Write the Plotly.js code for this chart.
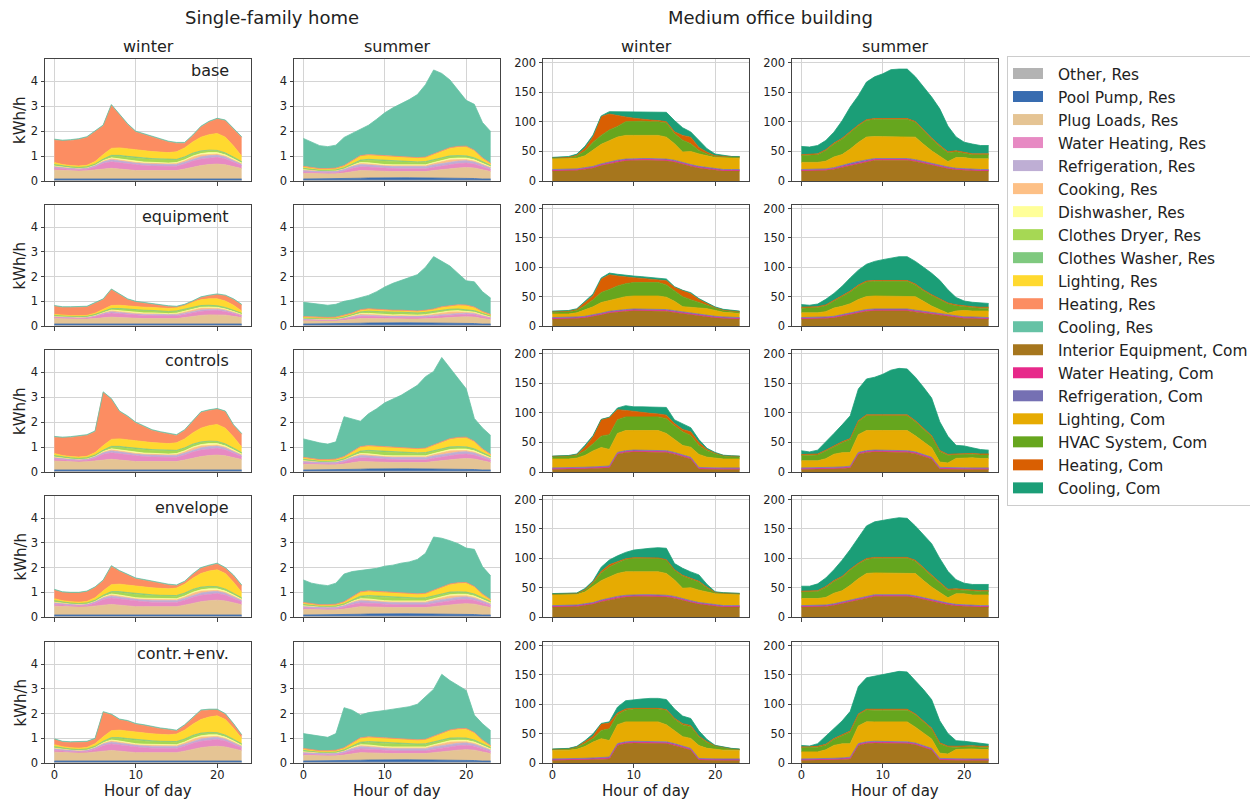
<!DOCTYPE html>
<html>
<head>
<meta charset="utf-8">
<script src="https://cdn.plot.ly/plotly-3.0.1.min.js"></script>
<style>html,body{margin:0;padding:0;background:#fff;}#chart{width:1250px;height:800px;}</style>
</head>
<body>
<div id="chart"></div>
<script>
// ---------- categories ----------
const hours = [0,1,2,3,4,5,6,7,8,9,10,11,12,13,14,15,16,17,18,19,20,21,22,23];
const scenarioLabels = ['base','equipment','controls','envelope','contr.+env.'];
const seasonLabels = ['winter','summer','winter','summer'];
const groupTitles = ['Single-family home','Medium office building'];
const resNames = ['Other, Res','Pool Pump, Res','Plug Loads, Res','Water Heating, Res','Refrigeration, Res','Cooking, Res','Dishwasher, Res','Clothes Dryer, Res','Clothes Washer, Res','Lighting, Res','Heating, Res','Cooling, Res'];
const comNames = ['Interior Equipment, Com','Water Heating, Com','Refrigeration, Com','Lighting, Com','HVAC System, Com','Heating, Com','Cooling, Com'];
const resColors = ['#b3b3b3','#386cb0','#e5c494','#e78ac3','#beaed4','#fdc086','#ffff99','#a6d854','#7fc97f','#ffd92f','#fc8d62','#66c2a5'];
const comColors = ['#a6761d','#e7298a','#7570b3','#e6ab02','#66a61e','#d95f02','#1b9e77'];
const resYTicks = [0,1,2,3,4];
const comYTicks = [0,50,100,150,200];
const xTicks = [0,10,20];

// ---------- residential (kWh/h) ----------
const rOther   = [0.03,0.03,0.03,0.03,0.03,0.03,0.04,0.04,0.04,0.04,0.04,0.04,0.04,0.04,0.04,0.04,0.04,0.04,0.04,0.04,0.04,0.04,0.03,0.03];
const rPoolW   = [0.05,0.05,0.05,0.05,0.05,0.05,0.05,0.05,0.06,0.07,0.07,0.07,0.07,0.07,0.07,0.06,0.06,0.06,0.06,0.06,0.06,0.05,0.05,0.05];
const rPlugW   = [0.36,0.34,0.33,0.32,0.33,0.36,0.40,0.42,0.38,0.33,0.31,0.31,0.31,0.31,0.31,0.32,0.38,0.46,0.52,0.56,0.58,0.56,0.50,0.42];
const rWaterW  = [0.08,0.06,0.05,0.05,0.06,0.12,0.22,0.26,0.25,0.24,0.22,0.20,0.18,0.17,0.16,0.17,0.20,0.24,0.26,0.27,0.27,0.24,0.18,0.12];
const rFridgeW = [0.07,0.07,0.07,0.06,0.06,0.07,0.07,0.08,0.08,0.08,0.08,0.08,0.08,0.08,0.08,0.08,0.08,0.08,0.09,0.09,0.09,0.08,0.08,0.07];
const rCook    = [0.01,0.01,0.01,0.01,0.01,0.02,0.03,0.05,0.04,0.03,0.03,0.03,0.04,0.03,0.03,0.04,0.06,0.08,0.08,0.06,0.04,0.03,0.02,0.01];
const rDishW   = [0.02,0.02,0.01,0.01,0.01,0.01,0.02,0.03,0.04,0.04,0.03,0.03,0.03,0.03,0.03,0.03,0.03,0.04,0.05,0.06,0.06,0.05,0.04,0.03];
const rDryerW  = [0.02,0.01,0.01,0.01,0.01,0.01,0.03,0.06,0.10,0.12,0.13,0.13,0.12,0.12,0.11,0.10,0.09,0.09,0.08,0.07,0.06,0.05,0.04,0.03];
const rWasherW = [0.02,0.01,0.01,0.01,0.01,0.01,0.02,0.04,0.04,0.04,0.04,0.04,0.03,0.03,0.03,0.03,0.03,0.03,0.03,0.03,0.03,0.03,0.02,0.02];
const rLightW  = [0.08,0.06,0.05,0.05,0.06,0.10,0.18,0.28,0.30,0.30,0.28,0.28,0.28,0.28,0.28,0.30,0.36,0.45,0.55,0.62,0.68,0.63,0.45,0.22];
const rCoolW   = [0.03,0.03,0.03,0.03,0.03,0.03,0.03,0.03,0.03,0.03,0.03,0.03,0.03,0.03,0.03,0.03,0.03,0.03,0.03,0.03,0.03,0.03,0.03,0.03];
const rHeatW_base  = [0.91,0.95,1.01,1.07,1.12,1.19,1.16,1.73,1.34,0.98,0.74,0.66,0.59,0.49,0.43,0.35,0.19,0.25,0.41,0.51,0.58,0.66,0.66,0.75];
const rHeatW_equip = [0.33,0.31,0.33,0.33,0.34,0.40,0.40,0.64,0.43,0.26,0.20,0.16,0.12,0.09,0.08,0.03,0.02,0.02,0.09,0.12,0.17,0.21,0.23,0.24];
const rHeatW_ctrl  = [0.66,0.71,0.77,0.83,0.84,0.84,2.13,1.61,1.09,0.93,0.74,0.61,0.49,0.43,0.38,0.30,0.34,0.45,0.63,0.61,0.61,0.66,0.46,0.52];
const rHeatW_env   = [0.35,0.33,0.35,0.37,0.39,0.41,0.41,0.74,0.52,0.40,0.32,0.28,0.24,0.19,0.16,0.10,0.09,0.15,0.21,0.21,0.24,0.21,0.26,0.27];
const rHeatW_ce    = [0.21,0.19,0.21,0.23,0.22,0.19,0.99,0.64,0.42,0.40,0.34,0.31,0.27,0.23,0.21,0.13,0.19,0.25,0.36,0.29,0.24,0.21,0.16,0.12];
// efficient-equipment residential loads
const rPlugWE   = [0.22,0.21,0.20,0.20,0.20,0.22,0.25,0.27,0.24,0.21,0.19,0.19,0.19,0.19,0.19,0.20,0.24,0.29,0.33,0.35,0.36,0.35,0.31,0.26];
const rWaterWE  = [0.05,0.04,0.03,0.03,0.04,0.08,0.14,0.17,0.16,0.15,0.14,0.13,0.12,0.11,0.10,0.11,0.13,0.15,0.17,0.17,0.17,0.15,0.12,0.08];
const rFridgeE  = [0.04,0.04,0.04,0.04,0.04,0.04,0.04,0.05,0.05,0.05,0.05,0.05,0.05,0.05,0.05,0.05,0.05,0.05,0.05,0.05,0.05,0.05,0.05,0.04];
const rDishE    = [0.01,0.01,0.01,0.01,0.01,0.01,0.01,0.02,0.03,0.03,0.02,0.02,0.02,0.02,0.02,0.02,0.02,0.03,0.03,0.04,0.04,0.03,0.03,0.02];
const rDryerE   = [0.01,0.01,0.01,0.01,0.01,0.01,0.02,0.04,0.07,0.08,0.09,0.09,0.08,0.08,0.07,0.07,0.06,0.06,0.05,0.05,0.04,0.03,0.03,0.02];
const rWasherE  = [0.01,0.01,0.01,0.01,0.01,0.01,0.01,0.02,0.02,0.02,0.02,0.02,0.02,0.02,0.02,0.02,0.02,0.02,0.02,0.02,0.02,0.02,0.01,0.01];
const rLightWE  = [0.04,0.03,0.03,0.03,0.03,0.05,0.08,0.12,0.13,0.13,0.12,0.12,0.12,0.12,0.12,0.13,0.15,0.19,0.23,0.26,0.28,0.26,0.19,0.09];
// summer residential
const rPoolS   = [0.05,0.05,0.05,0.05,0.05,0.05,0.06,0.07,0.08,0.09,0.09,0.09,0.09,0.09,0.09,0.08,0.08,0.07,0.07,0.06,0.06,0.06,0.05,0.05];
const rPlugS   = [0.23,0.22,0.21,0.21,0.21,0.24,0.28,0.31,0.29,0.26,0.25,0.25,0.25,0.25,0.25,0.26,0.30,0.35,0.39,0.42,0.44,0.42,0.37,0.30];
const rWaterS  = [0.05,0.04,0.03,0.03,0.04,0.08,0.13,0.15,0.15,0.14,0.13,0.12,0.11,0.10,0.10,0.11,0.13,0.15,0.17,0.18,0.18,0.16,0.12,0.08];
const rFridgeS = [0.08,0.08,0.08,0.08,0.08,0.08,0.08,0.09,0.09,0.09,0.09,0.09,0.09,0.09,0.09,0.09,0.10,0.10,0.10,0.10,0.10,0.09,0.09,0.08];
const rLightS  = [0.05,0.04,0.03,0.03,0.04,0.06,0.10,0.15,0.16,0.16,0.15,0.15,0.15,0.15,0.15,0.16,0.20,0.25,0.30,0.34,0.36,0.28,0.12,0.05];
const rHeatS   = [0.03,0.03,0.03,0.03,0.03,0.03,0.03,0.03,0.03,0.03,0.02,0.02,0.02,0.02,0.02,0.02,0.02,0.03,0.03,0.03,0.03,0.03,0.03,0.03];
const rPlugSE  = [0.14,0.13,0.13,0.13,0.13,0.15,0.17,0.19,0.18,0.16,0.15,0.15,0.15,0.15,0.15,0.16,0.18,0.21,0.24,0.26,0.27,0.26,0.22,0.18];
const rWaterSE = [0.03,0.02,0.02,0.02,0.02,0.05,0.08,0.09,0.09,0.08,0.08,0.07,0.07,0.06,0.06,0.07,0.08,0.09,0.10,0.11,0.11,0.10,0.07,0.05];
const rLightSE = [0.02,0.02,0.01,0.01,0.02,0.03,0.04,0.06,0.07,0.07,0.06,0.06,0.06,0.06,0.06,0.07,0.08,0.10,0.12,0.14,0.15,0.12,0.05,0.03];
const rCoolS_base  = [1.12,1.01,0.92,0.88,0.92,1.13,1.09,1.06,1.18,1.44,1.74,1.95,2.13,2.32,2.53,2.91,3.38,3.09,2.72,2.25,1.84,1.84,1.42,1.28];
const rCoolS_equip = [0.58,0.55,0.53,0.49,0.52,0.57,0.53,0.48,0.54,0.71,0.93,1.09,1.19,1.34,1.47,1.74,2.12,1.85,1.60,1.27,0.98,1.02,0.80,0.66];
const rCoolS_ctrl  = [0.74,0.70,0.67,0.62,0.69,1.60,1.32,1.02,1.28,1.50,1.78,1.94,2.11,2.33,2.54,2.87,2.96,3.37,2.85,2.40,1.94,0.91,0.84,0.76];
const rCoolS_env   = [0.91,0.83,0.81,0.77,0.85,1.12,1.02,0.87,0.88,0.93,1.06,1.11,1.21,1.28,1.39,1.62,2.16,1.96,1.75,1.58,1.39,1.50,1.11,0.96];
const rCoolS_ce    = [0.60,0.60,0.59,0.54,0.67,1.62,1.32,0.92,0.98,1.03,1.13,1.19,1.26,1.33,1.44,1.72,1.91,2.36,2.00,1.75,1.54,0.70,0.66,0.60];

// ---------- commercial (kWh/h) ----------
const cWater  = [0.8,0.8,0.8,0.8,0.9,1.0,1.2,1.4,1.4,1.3,1.3,1.3,1.3,1.3,1.3,1.3,1.2,1.1,1.0,0.9,0.9,0.8,0.8,0.8];
const cFridge = [1.6,1.6,1.6,1.6,1.6,1.6,1.7,1.7,1.7,1.7,1.7,1.7,1.7,1.7,1.7,1.7,1.7,1.7,1.7,1.6,1.6,1.6,1.6,1.6];
const cHeatS  = [1.5,1.5,1.5,1.5,1.5,1.5,1.5,1.5,1.5,1.5,1.5,1.5,1.5,1.5,1.5,1.5,1.5,1.5,1.5,1.5,1.5,1.5,1.5,1.5];
const cEquipW_std = [17,17,17,18,20,22,26,29,32,34,35,35,35,35,34,32,28,25,22,20,18,17,17,17];
const cEquipS_std = [17,17,17,18,20,23,27,30,33,35,35,35,35,35,33,30,26,23,21,19,18,17,17,17];
const cLightW_std = [18,18,18,18,20,27,33,36,39,40,39,39,39,39,37,28,18,22,21,20,19,20,19,19];
const cLightS_std = [12,12,12,13,18,19,24,32,38,37,37,37,37,37,38,29,22,16,9,18,19,18,18,18];
const cEquipW_eff = [12,12,12,13,14,16,19,22,24,25,26,26,26,26,25,23,21,19,17,15,14,13,13,12];
const cEquipS_eff = [12,12,12,13,14,17,20,23,25,26,26,26,26,26,24,22,20,18,16,14,13,13,12,12];
const cLightW_eff = [6,6,6,7,11,14,18,18,20,22,22,22,22,22,21,16,9,10,12,12,10,8,7,7];
const cLightS_eff = [8,8,8,9,14,14,15,19,22,22,22,22,22,22,23,17,11,7,3,9,11,10,11,11];
const cEquipW_ctl = [4.5,4.5,4.5,5,5.5,6,6.5,7,30,33,34,34,34,34,33,30,26,22,5,4.5,4.5,4.5,4.5,4.5];
const cEquipS_ctl = [4.5,4.5,4.5,5,5.5,6,7,30,33,34,34,34,34,33,31,27,22,5,4.5,4.5,4.5,4.5,4.5,4.5];
const cLightW_ctl = [15,15,15,16,20,27,32,28,32,34,33,33,33,33,29,22,16,17,22,18,16,15,15,15];
const cLightS_ctl = [12,12,12,15,22,24,23,30,34,33,33,33,33,34,27,21,16,9,8,16,17,17,16,16];
const cHvacW_base  = [1.5,1.5,2,4,8,14,15,18,18,23,24,24,23,23,24,17,20,13,6,3,2,1.5,1.5,1.5];
const cHeatW_base  = [0.5,1,0.5,1,5,9,32,27,18,8,5,3,3,2,2,3,8,11,5,3,1,1,1,1];
const cCoolW_base  = [0.5,1,1.5,2,3,3,1,4,7,9,11,13,14,15,16,19,13,9,12,6,3,1,0.5,0.5];
const cHvacS_base  = [11.5,12,13,18,22,26,28,28,28,29,29,29,29,29,25,23,20,17,15,10,7,7,7,7];
const cCoolS_base  = [14,12.5,14,15.5,18.5,29.5,41.5,49.5,63.5,70.5,75.5,82.5,83.5,83.5,75.5,72.5,69.5,61.5,43.5,23.5,17.5,16.5,14,14];
const cHvacW_equip = [3,3,4,4,7,12,17,19,21,22,23,23,23,23,21,18,17,13,8,6,4,3,2,2];
const cHeatW_equip = [1,1,1,2,6,7,23,25,17,11,8,7,6,5,7,6,10,10,6,3,1,1,1,1];
const cCoolW_equip = [1,1,1,1,2,3,2,3,3,3,3,3,3,3,3,1,1,2,1,1,1,1,1,1];
const cHvacS_equip = [8,8,9,10,12,16,20,23,25,25,25,25,25,25,20,18,18,17,16,9,6,6,5,5];
const cCoolS_equip = [4.5,3.5,4.5,9.5,11.5,16.5,22.5,25.5,28.5,32.5,35.5,38.5,40.5,40.5,38.5,38.5,36.5,31.5,22.5,12.5,8.5,7.5,7.5,6.5];
const cHvacW_ctrl  = [4,4,5,5,8,12,19,25,23,23,23,23,23,23,25,23,23,20,15,11,8,5,4,4];
const cHeatW_ctrl  = [0.5,0.5,0.5,1,6,12,28,29,17,11,9,7,6,5,6,4,4,6,5,2,1,1,1,0.5];
const cCoolW_ctrl  = [0.5,0.5,0.5,1,3,2,0.5,0.5,3,8,8,10,11,12,13,6,9,7,5,2,1,0.5,0.5,0.5];
const cHvacS_ctrl  = [9,9,10,13,13,17,22,22,25,25,25,25,25,25,24,21,19,18,13,6,6,6,6,6];
const cCoolS_ctrl  = [6.5,4.5,6.5,13.5,20.5,28.5,38.5,53.5,60.5,63.5,68.5,75.5,78.5,77.5,73.5,69.5,63.5,48.5,30.5,14.5,12.5,9.5,7.5,6.5];
const cHvacW_env   = [1.5,1.5,1.5,1.5,3,6,13,17,18,21,23,23,23,23,23,17,21,15,14,7,2,1,1,1];
const cHeatW_env   = [0.5,0.5,0.5,0.5,1,2,3,4,2,1,1,0.5,0.5,0.5,0.5,0.5,1,1,1,1,0.5,0.5,0.5,0.5];
const cCoolW_env   = [0.5,0.5,0.5,0.5,2,2,7,8,10,11,13,15.5,16.5,17.5,19.5,10.5,12,11,11,5,1,0.5,0.5,0.5];
const cHvacS_env   = [11,11,12,17,20,23,26,25,24,25,25,25,25,25,21,20,19,16,13,7,6,6,6,6];
const cCoolS_env   = [8.5,8.5,11.5,14.5,18.5,27.5,33.5,43.5,55.5,60.5,63.5,65.5,67.5,66.5,58.5,56.5,53.5,40.5,30.5,15.5,10.5,10.5,10.5,10.5];
const cHvacW_ce    = [1,1,2,3,5,6,14,20,17,20,22,22,22,22,25,20,20,20,15,10,6,4,2,1];
const cHeatW_ce    = [0.5,0.5,0.5,1,3,4,11,10,3,2,1,1,1,1,1,1,2,2,1,1,0.5,0.5,0.5,0.5];
const cCoolW_ce    = [0.5,0.5,0.5,1,2,4,1,2,10,14,15,16,17,17,17,16,13,12,9,4,0.5,0.5,0.5,0.5];
const cHvacS_ce    = [7,7,8,8,10,14,20,19,20,20,20,20,20,20,21,19,17,16,12,4,4,4,4,4];
const cCoolS_ce    = [2.5,1.5,4.5,13.5,16.5,23.5,33.5,46.5,53.5,56.5,58.5,61.5,64.5,63.5,56.5,53.5,48.5,37.5,21.5,9.5,7.5,5.5,4.5,3.5];

// ---------- panel tables (rows = scenarios) ----------
const resStdW = (heat) => [rOther,rPoolW,rPlugW,rWaterW,rFridgeW,rCook,rDishW,rDryerW,rWasherW,rLightW,heat,rCoolW];
const resStdS = (cool) => [rOther,rPoolS,rPlugS,rWaterS,rFridgeS,rCook,rDishW,rDryerW,rWasherW,rLightS,rHeatS,cool];
const panels = [
  [resStdW(rHeatW_base),
   resStdS(rCoolS_base),
   [cEquipW_std,cWater,cFridge,cLightW_std,cHvacW_base,cHeatW_base,cCoolW_base],
   [cEquipS_std,cWater,cFridge,cLightS_std,cHvacS_base,cHeatS,cCoolS_base]],
  [[rOther,rPoolW,rPlugWE,rWaterWE,rFridgeE,rCook,rDishE,rDryerE,rWasherE,rLightWE,rHeatW_equip,rCoolW],
   [rOther,rPoolS,rPlugSE,rWaterSE,rFridgeE,rCook,rDishE,rDryerE,rWasherE,rLightSE,rHeatS,rCoolS_equip],
   [cEquipW_eff,cWater,cFridge,cLightW_eff,cHvacW_equip,cHeatW_equip,cCoolW_equip],
   [cEquipS_eff,cWater,cFridge,cLightS_eff,cHvacS_equip,cHeatS,cCoolS_equip]],
  [resStdW(rHeatW_ctrl),
   resStdS(rCoolS_ctrl),
   [cEquipW_ctl,cWater,cFridge,cLightW_ctl,cHvacW_ctrl,cHeatW_ctrl,cCoolW_ctrl],
   [cEquipS_ctl,cWater,cFridge,cLightS_ctl,cHvacS_ctrl,cHeatS,cCoolS_ctrl]],
  [resStdW(rHeatW_env),
   resStdS(rCoolS_env),
   [cEquipW_std,cWater,cFridge,cLightW_std,cHvacW_env,cHeatW_env,cCoolW_env],
   [cEquipS_std,cWater,cFridge,cLightS_std,cHvacS_env,cHeatS,cCoolS_env]],
  [resStdW(rHeatW_ce),
   resStdS(rCoolS_ce),
   [cEquipW_ctl,cWater,cFridge,cLightW_ctl,cHvacW_ce,cHeatW_ce,cCoolW_ce],
   [cEquipS_ctl,cWater,cFridge,cLightS_ctl,cHvacS_ce,cHeatS,cCoolS_ce]]
];

// ---------- layout geometry ----------
const W = 1250, H = 800;
const colPx = [[45,251],[294,500],[543,749],[792,998]];
const rowPx = [[59,181],[205,326],[350,472],[496,617],[642,763]];
const FONT = 'DejaVu Sans, Liberation Sans, sans-serif';
const TXT = '#222';

const traces = [];
const layout = {
  width: W, height: H,
  margin: {l:0, r:0, t:0, b:0},
  paper_bgcolor: '#fff', plot_bgcolor: '#fff',
  font: {family: FONT, color: TXT},
  showlegend: true,
  legend: {
    x: 1007/W, y: 1 - 56/H, xanchor: 'left', yanchor: 'top',
    traceorder: 'normal', bgcolor: '#fff', bordercolor: '#cccccc', borderwidth: 1,
    font: {size: 15.4, color: TXT, family: FONT}, itemwidth: 30, tracegroupgap: 0
  },
  annotations: []
};

// legend patches (legend-only entries, one per category)
resNames.forEach((nm, k) => traces.push({type:'scatter', mode:'lines', x:[null], y:[null], name:nm,
  line:{color:resColors[k], width:10}, showlegend:true, legendrank:k, hoverinfo:'skip'}));
comNames.forEach((nm, k) => traces.push({type:'scatter', mode:'lines', x:[null], y:[null], name:nm,
  line:{color:comColors[k], width:10}, showlegend:true, legendrank:100+k, hoverinfo:'skip'}));

let n = 0;
for (let r = 0; r < 5; r++) {
  for (let c = 0; c < 4; c++) {
    n++;
    const isRes = c < 2;
    const xa = n === 1 ? 'x' : 'x' + n;
    const ya = n === 1 ? 'y' : 'y' + n;
    const names = isRes ? resNames : comNames;
    const colors = isRes ? resColors : comColors;
    const series = panels[r][c];
    series.forEach((ys, k) => {
      traces.push({
        type: 'scatter', mode: 'lines', x: hours, y: ys,
        stackgroup: 'g' + n, name: names[k],
        line: {color: colors[k], width: 0.8},
        fillcolor: colors[k],
        xaxis: xa, yaxis: ya,
        showlegend: false,
        hoverinfo: 'skip'
      });
    });
    const axCommon = {
      showgrid: true, gridcolor: '#d4d4d4', gridwidth: 1,
      showline: true, mirror: true, linecolor: '#444', linewidth: 1,
      ticks: 'outside', ticklen: 3.5, tickcolor: '#444', zeroline: false,
      tickfont: {size: 11.5, color: TXT, family: FONT}, fixedrange: true
    };
    layout[n === 1 ? 'xaxis' : 'xaxis' + n] = Object.assign({}, axCommon, {
      domain: [colPx[c][0]/W, colPx[c][1]/W], anchor: ya,
      range: [-1.15, 24.15], tickvals: xTicks, showticklabels: r === 4,
      ticklabelstandoff: -2
    });
    layout[n === 1 ? 'yaxis' : 'yaxis' + n] = Object.assign({}, axCommon, {
      domain: [1 - rowPx[r][1]/H, 1 - rowPx[r][0]/H], anchor: xa,
      range: isRes ? [0, 4.9] : [0, 206], tickvals: isRes ? resYTicks : comYTicks
    });
  }
}

const A = layout.annotations;
A.push({text: groupTitles[0], x: 272/W, y: 1 - 18/H, xref:'paper', yref:'paper', showarrow:false, xanchor:'center', yanchor:'middle', font:{size:18, color:TXT}});
A.push({text: groupTitles[1], x: 770/W, y: 1 - 18/H, xref:'paper', yref:'paper', showarrow:false, xanchor:'center', yanchor:'middle', font:{size:18, color:TXT}});
for (let c = 0; c < 4; c++) {
  A.push({text: seasonLabels[c], x: (colPx[c][0]+colPx[c][1])/2/W, y: 1 - 47/H, xref:'paper', yref:'paper', showarrow:false, xanchor:'center', yanchor:'middle', font:{size:16, color:TXT}});
  A.push({text: 'Hour of day', x: (colPx[c][0]+colPx[c][1])/2/W, y: 1 - 791/H, xref:'paper', yref:'paper', showarrow:false, xanchor:'center', yanchor:'middle', font:{size:15, color:TXT}});
}
for (let r = 0; r < 5; r++) {
  A.push({text: scenarioLabels[r], x: 231/W, y: 1 - (rowPx[r][0]+11)/H, xref:'paper', yref:'paper', showarrow:false, xanchor:'right', yanchor:'middle', font:{size:16, color:TXT}});
  A.push({text: 'kWh/h', x: 20/W, y: 1 - (rowPx[r][0]+rowPx[r][1])/2/H, xref:'paper', yref:'paper', showarrow:false, xanchor:'center', yanchor:'middle', textangle:-90, font:{size:15, color:TXT}});
}

Plotly.newPlot('chart', traces, layout, {displayModeBar:false, staticPlot:true}).then(gd => {
  // taller legend patches, like filled rectangles, and a wider text gap
  gd.querySelectorAll('.legend .legendlines path').forEach(p => { p.style.strokeWidth = '11px'; });
  gd.querySelectorAll('.legend .legendtext').forEach(t => { t.setAttribute('x', '50'); });
  const bg = gd.querySelector('.legend .bg');
  if (bg) { bg.setAttribute('width', String(parseFloat(bg.getAttribute('width')) + 14)); }
  document.querySelectorAll('clipPath[id*="legend"] rect').forEach(rc => {
    rc.setAttribute('width', String(parseFloat(rc.getAttribute('width') || 0) + 20));
  });
});
</script>
</body>
</html>
